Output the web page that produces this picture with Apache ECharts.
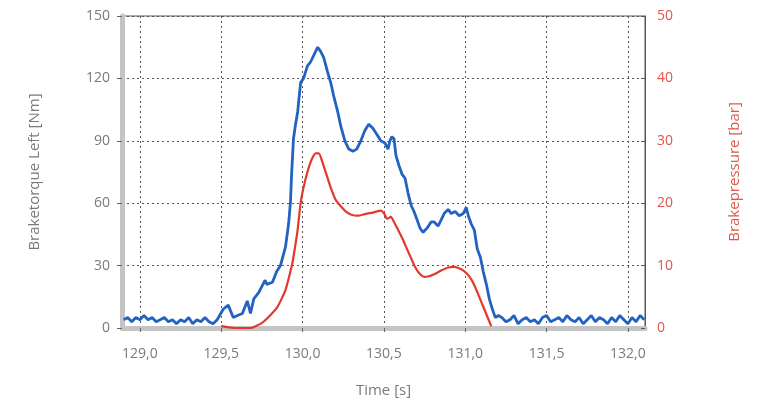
<!DOCTYPE html>
<html><head><meta charset="utf-8">
<script src="https://cdn.jsdelivr.net/npm/echarts@6/dist/echarts.min.js"></script>
<style>html,body{margin:0;padding:0;background:#fff}#c{width:766px;height:408px}</style>
</head><body><div id="c"></div>
<script>
// X-axis tick labels (seconds)
const xTicks = [129.0, 129.5, 130.0, 130.5, 131.0, 131.5, 132.0];

// Braketorque Left [Nm] — time stamps and values
const torqueTime = [
  128.9,128.925,128.95,128.975,129.0,129.025,129.05,129.075,129.1,129.125,129.15,129.175,129.2,129.225,129.25,129.275,129.3,129.325,129.35,129.375,129.4,129.425,129.45,
  129.475,129.512,129.543,129.574,129.6,129.63,129.66,129.68,129.70,129.73,129.75,129.77,129.78,129.815,129.84,129.864,129.895,129.914,129.926,129.932,129.944,129.957,129.97,129.988,
  130.006,130.03,130.05,130.068,130.093,130.111,130.13,130.154,130.173,130.19,130.216,130.235,130.26,130.284,130.309,130.333,130.358,130.383,130.407,130.432,130.457,130.481,130.506,130.525,130.537,130.549,130.562,130.574,130.593,
  130.611,130.63,130.648,130.667,130.685,130.704,130.722,130.741,130.765,130.79,130.809,130.833,130.852,130.87,130.895,130.914,130.938,130.963,130.988,
  131.006,131.019,131.037,131.056,131.074,131.093,131.111,131.13,131.148,131.167,131.185,131.204,
  131.225,131.25,131.275,131.3,131.325,131.35,131.375,131.4,131.425,131.45,131.475,131.5,131.525,131.55,131.575,131.6,131.625,131.65,131.675,131.7,131.725,131.75,131.775,131.8,131.825,131.85,131.875,131.9,131.925,131.95,131.975,132.0,132.025,132.05,132.075,132.1
];
const torqueValues = [
  4,5,3,5,4,6,4,5,3,4,5,3,4,2,4,3,5,2,4,3,5,3,2,
  4,9,11,5,6,7,13,7,14,17,20,23,21,22,27,30,39,50,61,73,91,98,104,118,
  120,126,128,131,135,133,130,123,118,112,104,97,90,86,85,86,90,95,98,96,93,90,89,86,90,92,91,83,78,
  74,72,65,59,56,52,48,46,48,51,51,49,52,55,57,55,56,54,55,
  58,54,50,47,38,34,27,21,14,9,5,6,
  5,3,4,6,2,4,5,3,4,2,5,6,3,4,5,3,6,4,3,5,2,4,6,3,5,4,2,5,3,6,4,2,5,3,6,4
];

// Brakepressure [bar] — time stamps and values
const pressureTime = [
  129.5,129.586,129.68,129.728,129.76,129.8,129.846,129.877,129.895,129.92,129.938,129.957,129.97,129.988,
  130.006,130.03,130.056,130.08,130.1,130.123,130.148,130.173,130.204,130.235,130.265,130.296,130.34,130.389,130.432,130.481,130.5,130.52,130.543,130.562,130.586,
  130.611,130.636,130.667,130.691,130.716,130.747,130.778,130.809,130.852,130.895,130.932,130.975,
  131.006,131.037,131.062,131.086,131.111,131.136,131.16
];
const pressureValues = [
  0.3,0,0,0.5,1,2,3.4,5,6.1,8.5,10.5,13.5,15.8,20,
  22.5,25,27,28,28,26.5,24.5,22.5,20.5,19.5,18.7,18.2,18,18.3,18.5,18.8,18.4,17.5,17.8,17,15.8,
  14.5,13,11.2,9.8,8.8,8.2,8.3,8.6,9.2,9.7,9.8,9.4,
  8.8,7.8,6.5,5,3.4,1.8,0.3
];

const torqueData = torqueTime.map((t, i) => [t, torqueValues[i]]);
const pressureData = pressureTime.map((t, i) => [t, pressureValues[i]]);

const FONT = '"Open Sans", "Noto Sans", sans-serif';
const grey = '#7a7a7a';
const red = '#e0574c';

const chart = echarts.init(document.getElementById('c'), null, {renderer: 'canvas'});
chart.setOption({
  animation: false,
  backgroundColor: '#ffffff',
  grid: {left: 122, right: 121, top: 16, bottom: 80, show: true, borderColor: '#555', borderWidth: 1, backgroundColor: 'transparent'},
  xAxis: {
    type: 'value', min: 128.89, max: 132.105,
    name: 'Time [s]', nameLocation: 'middle', nameGap: 55,
    nameTextStyle: {color: grey, fontFamily: FONT, fontSize: 15},
    axisLine: {show: true, onZero: false, lineStyle: {color: '#c4c4c4', width: 5}},
    axisTick: {show: true, customValues: xTicks, length: 4, lineStyle: {color: '#666'}},
    axisLabel: {customValues: xTicks, color: grey, fontFamily: FONT, fontSize: 14, margin: 19,
      formatter: v => v.toFixed(1).replace('.', ',')},
    splitLine: {show: true, lineStyle: {color: '#555', type: [2, 3], width: 1}}
  },
  yAxis: [{
    type: 'value', min: 0, max: 150, interval: 30, position: 'left',
    name: 'Braketorque Left [Nm]', nameLocation: 'middle', nameGap: 80, nameRotate: 90,
    nameTextStyle: {color: grey, fontFamily: FONT, fontSize: 15},
    axisLine: {show: true, lineStyle: {color: '#c4c4c4', width: 5}},
    axisTick: {show: true, length: 5, lineStyle: {color: '#666'}},
    axisLabel: {color: grey, fontFamily: FONT, fontSize: 14, margin: 12},
    splitLine: {show: true, lineStyle: {color: '#555', type: [2, 3], width: 1}}
  }, {
    type: 'value', min: 0, max: 50, interval: 10, position: 'right',
    name: 'Brakepressure [bar]', nameLocation: 'middle', nameGap: 82, nameRotate: 90,
    nameTextStyle: {color: red, fontFamily: FONT, fontSize: 15},
    axisLine: {show: true, lineStyle: {color: '#555', width: 1}},
    axisTick: {show: true, inside: true, length: 4, lineStyle: {color: '#555'}},
    axisLabel: {color: red, fontFamily: FONT, fontSize: 14, margin: 12},
    splitLine: {show: false}
  }],
  series: [{
    type: 'line', yAxisIndex: 0, data: torqueData, showSymbol: false, symbol: 'none',
    lineStyle: {color: '#2263c2', width: 2.8}, z: 3
  }, {
    type: 'line', yAxisIndex: 1, data: pressureData, showSymbol: false, symbol: 'none', smooth: 0.2,
    lineStyle: {color: '#e2392c', width: 2.2}, z: 4
  }]
});
</script></body></html>
